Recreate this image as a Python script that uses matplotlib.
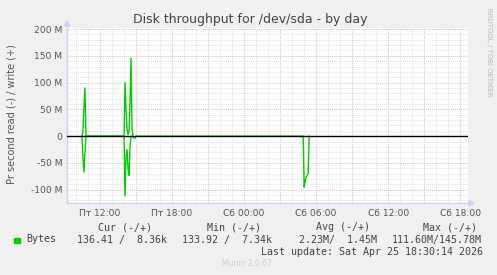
import matplotlib
matplotlib.use("Agg")
import matplotlib.pyplot as plt
from matplotlib.patches import Rectangle, Polygon
import numpy as np

# ---------------- data (hours since Fri 00:00, bytes/s) ----------------
write_times = ["Пт 10:30", "Пт 10:35", "Пт 10:40", "Пт 10:45", "Пт 10:50",
               "Пт 14:00", "Пт 14:05", "Пт 14:10", "Пт 14:15", "Пт 14:20",
               "Пт 14:25", "Пт 14:30", "Пт 14:35", "Пт 14:40", "Пт 14:45"]
write_values = [0, 10e6, 55e6, 90e6, 0,
                0, 100e6, 50e6, 15e6, 3e6,
                8e6, 60e6, 145.78e6, 15e6, 0]

read_times = ["Пт 10:30", "Пт 10:35", "Пт 10:40", "Пт 10:45", "Пт 10:50",
              "Пт 14:00", "Пт 14:05", "Пт 14:10", "Пт 14:15", "Пт 14:20",
              "Пт 14:25", "Пт 14:30", "Пт 14:35", "Пт 14:40", "Пт 14:45",
              "Пт 14:50", "Пт 14:55", "Пт 15:00",
              "Сб 04:55", "Сб 05:00", "Сб 05:05", "Сб 05:10", "Сб 05:15",
              "Сб 05:20", "Сб 05:25"]
read_values = [0, 40e6, 67e6, 30e6, 0,
               0, 111.6e6, 40e6, 25e6, 60e6,
               73e6, 20e6, 0, 0, 1e6,
               3e6, 4e6, 0,
               0, 95e6, 85e6, 76e6, 73e6,
               70e6, 0]

x_tick_labels = ["Пт 12:00", "Пт 18:00", "Сб 00:00", "Сб 06:00", "Сб 12:00", "Сб 18:00"]
y_tick_values = [-100e6, -50e6, 0, 50e6, 100e6, 150e6, 200e6]
y_tick_labels = ["-100 M", "-50 M", "0", "50 M", "100 M", "150 M", "200 M"]

legend_label = "Bytes"
cur_text = "136.41 /  8.36k"
min_text = "133.92 /  7.34k"
avg_text = "2.23M/  1.45M"
max_text = "111.60M/145.78M"
last_update = "Last update: Sat Apr 25 18:30:14 2026"

DAY_OFFSET = {"Пт": 0, "Сб": 24}


def to_hours(s):
    d, hm = s.split()
    h, m = hm.split(":")
    return DAY_OFFSET[d] + int(h) + int(m) / 60.0


wt = np.array([to_hours(s) for s in write_times])
rt = np.array([to_hours(s) for s in read_times])
wv = np.array(write_values)
rv = -np.array(read_values)
xticks = [to_hours(s) for s in x_tick_labels]

# ---------------- figure ----------------
W, H = 497, 275
fig = plt.figure(figsize=(W / 100, H / 100), dpi=100, facecolor="#F0F0F0")


def fx(px):
    return px / W


def fy(py):
    return 1 - py / H


L, R, T, B = 67, 468, 28, 203.3
ax = fig.add_axes([fx(L), fy(B), fx(R) - fx(L), fy(T) - fy(B)])
ax.set_facecolor("white")

x0 = 12 + (L - 100) / 12.01
x1 = 12 + (R - 100) / 12.01
ax.set_xlim(x0, x1)
ymin = -(B - 136.3) / 53.5 * 100e6
ymax = 200e6 + (29 - T) / 53.5 * 100e6
ax.set_ylim(ymin, ymax)

minor_c = "#e2e2e2"
major_c = "#f0bcbc"
dot = (0, (1, 1))
# vertical grid
for h in np.arange(np.ceil(x0), x1, 1.0):
    c = major_c if int(h) % 3 == 0 else minor_c
    ax.axvline(h, color=c, lw=0.75, ls=dot, zorder=1)
# horizontal grid
for v in np.arange(-120e6, 201e6, 10e6):
    c = major_c if int(round(v / 1e6)) % 50 == 0 else minor_c
    ax.axhline(v, color=c, lw=0.75, ls=dot, zorder=1)

# data
ax.plot(wt, wv, color="#00CC00", lw=1.0, zorder=3)
ax.plot(rt, rv, color="#00CC00", lw=1.0, zorder=3)
ax.axhline(0, color="black", lw=1.0, zorder=4)

for s in ["top", "right"]:
    ax.spines[s].set_visible(False)
for s in ["left", "bottom"]:
    ax.spines[s].set_color("#d0d0f4")
    ax.spines[s].set_linewidth(1.0)

ax.set_xticks(xticks)
ax.set_xticklabels(x_tick_labels)
ax.set_yticks(y_tick_values)
ax.set_yticklabels(y_tick_labels)
ax.tick_params(axis="both", length=2, direction="inout", color=major_c,
               labelsize=6.6, labelcolor="#555555", pad=2.5)
ax.tick_params(axis="x", pad=3)

# axis arrows
fig.add_artist(Polygon([[fx(L - 3), fy(T - 2)], [fx(L + 3), fy(T - 2)], [fx(L), fy(T - 7)]],
                       closed=True, color="#d0d0f4", transform=fig.transFigure))
fig.add_artist(Polygon([[fx(R + 1), fy(B - 3)], [fx(R + 1), fy(B + 3)], [fx(R + 6), fy(B)]],
                       closed=True, color="#d0d0f4", transform=fig.transFigure))

# title and labels
fig.text(fx(250), fy(19), "Disk throughput for /dev/sda - by day", ha="center", va="center",
         fontsize=9, color="#444444")
fig.text(fx(12), fy(114), "Pr second read (-) / write (+)", rotation=90, ha="center",
         va="center", fontsize=7, color="#555555")
fig.text(fx(489), fy(52), "RRDTOOL / TOBI OETIKER", rotation=270, ha="center", va="center",
         fontsize=5, color="#bbbbbb")

# legend
mono = "DejaVu Sans Mono"
tc = "#444444"
fs = 7.2
fig.add_artist(Rectangle((fx(14), fy(242.5)), 6 / W, 5 / H, color="#00CC00",
                         transform=fig.transFigure))
fig.text(fx(98), fy(227), "Cur (-/+)", family=mono, fontsize=fs, color=tc, va="center")
fig.text(fx(207), fy(227), "Min (-/+)", family=mono, fontsize=fs, color=tc, va="center")
fig.text(fx(316), fy(227), "Avg (-/+)", family=mono, fontsize=fs, color=tc, va="center")
fig.text(fx(423), fy(227), "Max (-/+)", family=mono, fontsize=fs, color=tc, va="center")
fig.text(fx(26), fy(239.5), legend_label, family=mono, fontsize=fs, color=tc, va="center")
fig.text(fx(77), fy(239.5), cur_text, family=mono, fontsize=fs, color=tc, va="center")
fig.text(fx(182), fy(239.5), min_text, family=mono, fontsize=fs, color=tc, va="center")
fig.text(fx(299), fy(239.5), avg_text, family=mono, fontsize=fs, color=tc, va="center")
fig.text(fx(392), fy(239.5), max_text, family=mono, fontsize=fs, color=tc, va="center")
fig.text(fx(483), fy(252), last_update, family=mono, fontsize=fs, color=tc, va="center",
         ha="right")
fig.text(fx(247.5), fy(263), "Munin 2.0.67", fontsize=5.5, color="#cccccc", ha="center",
         va="center")

fig.savefig("out.png", dpi=100, facecolor=fig.get_facecolor())
